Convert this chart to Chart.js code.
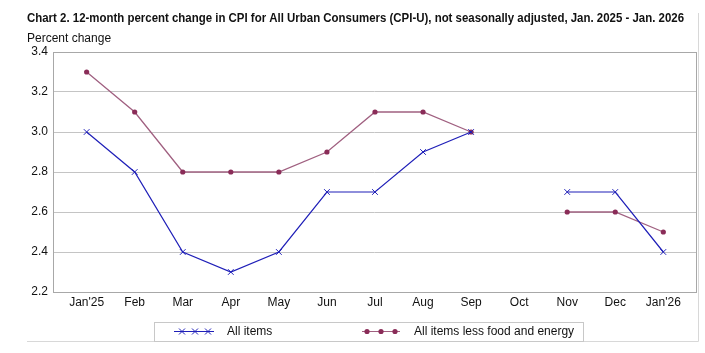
<!DOCTYPE html>
<html>
<head>
<meta charset="utf-8">
<script src="https://cdn.jsdelivr.net/npm/chart.js@4"></script>
<style>
  html, body { margin: 0; padding: 0; background: #fff; }
  #wrap { width: 705px; height: 353px; }
</style>
</head>
<body>
<div id="wrap"><canvas id="cpiChart" width="705" height="353"></canvas></div>
<script>
const months = ["Jan'25", "Feb", "Mar", "Apr", "May", "Jun", "Jul", "Aug", "Sep", "Oct", "Nov", "Dec", "Jan'26"];
const allItems = [3.0, 2.8, 2.4, 2.3, 2.4, 2.7, 2.7, 2.9, 3.0, null, 2.7, 2.7, 2.4];
const coreItems = [3.3, 3.1, 2.8, 2.8, 2.8, 2.9, 3.1, 3.1, 3.0, null, 2.6, 2.6, 2.5];
const yTicks = [2.2, 2.4, 2.6, 2.8, 3.0, 3.2, 3.4];
const seriesLabels = ["All items", "All items less food and energy"];
const chartTitle = "Chart 2. 12-month percent change in CPI for All Urban Consumers (CPI-U), not seasonally adjusted, Jan. 2025 - Jan. 2026";
const yTitle = "Percent change";

const FONT = "'Liberation Sans', Arial, sans-serif";
const BLUE = "#1f1fb8";
const MAROON_LINE = "#a06080";
const MAROON_PT = "#8a2c58";

// turn a value list into {x, y} points so the x axis can be a padded linear scale
const toPoints = (vals) => vals.map((v, i) => ({ x: i, y: v }));

// titles, frame around the plot, outer light frame and the boxed legend
const decorPlugin = {
  id: "decor",
  afterDraw(chart) {
    const { ctx, chartArea: a } = chart;
    ctx.save();

    // title is squeezed into its width like the narrow original
    ctx.fillStyle = "#111";
    ctx.textBaseline = "middle";
    ctx.font = "bold 13px " + FONT;
    ctx.fillText(chartTitle, 27, 18, 657);
    ctx.font = "12px " + FONT;
    ctx.fillText(yTitle, 27, 38.5);

    ctx.strokeStyle = "#a8a8a8";
    ctx.lineWidth = 1;
    ctx.strokeRect(Math.round(a.left) + 0.5, Math.round(a.top) + 0.5,
      Math.round(a.right - a.left), Math.round(a.bottom - a.top));

    // outer frame (right and bottom edges only)
    ctx.strokeStyle = "#d8d8d8";
    ctx.beginPath();
    ctx.moveTo(698.5, 13);
    ctx.lineTo(698.5, 341.5);
    ctx.lineTo(27, 341.5);
    ctx.stroke();

    // legend box
    ctx.strokeStyle = "#c8c8c8";
    ctx.strokeRect(154.5, 322.5, 429, 19);

    const items = [
      { x0: 174, x1: 214, marks: [182, 195, 208], color: BLUE, ptColor: BLUE, style: "x", tx: 227 },
      { x0: 362, x1: 400, marks: [367, 381, 395], color: MAROON_LINE, ptColor: MAROON_PT, style: "dot", tx: 414 },
    ];
    const ly = 331.5;
    items.forEach((it, i) => {
      ctx.strokeStyle = it.color;
      ctx.lineWidth = 1;
      ctx.beginPath();
      ctx.moveTo(it.x0, ly);
      ctx.lineTo(it.x1, ly);
      ctx.stroke();
      it.marks.forEach((mx) => {
        if (it.style === "x") {
          ctx.strokeStyle = it.ptColor;
          ctx.beginPath();
          ctx.moveTo(mx - 3, ly - 3); ctx.lineTo(mx + 3, ly + 3);
          ctx.moveTo(mx - 3, ly + 3); ctx.lineTo(mx + 3, ly - 3);
          ctx.stroke();
        } else {
          ctx.fillStyle = it.ptColor;
          ctx.beginPath();
          ctx.arc(mx, ly, 2.6, 0, Math.PI * 2);
          ctx.fill();
        }
      });
      ctx.fillStyle = "#111";
      ctx.font = "12px " + FONT;
      ctx.textBaseline = "middle";
      ctx.fillText(seriesLabels[i], it.tx, ly);
    });
    ctx.restore();
  },
};

const ctx = document.getElementById("cpiChart").getContext("2d");
new Chart(ctx, {
  type: "line",
  data: {
    datasets: [
      {
        label: seriesLabels[0],
        data: toPoints(allItems),
        borderColor: BLUE,
        backgroundColor: BLUE,
        borderWidth: 1.2,
        pointStyle: "crossRot",
        pointRadius: 4,
        pointBorderWidth: 1,
        pointBorderColor: BLUE,
        spanGaps: false,
        order: 1,
      },
      {
        label: seriesLabels[1],
        data: toPoints(coreItems),
        borderColor: MAROON_LINE,
        backgroundColor: MAROON_PT,
        borderWidth: 1.3,
        pointStyle: "circle",
        pointRadius: 2.6,
        pointBorderWidth: 0,
        pointBackgroundColor: MAROON_PT,
        spanGaps: false,
        order: 2,
      },
    ],
  },
  options: {
    responsive: false,
    animation: false,
    events: [],
    layout: { padding: { left: 27, right: 9, top: 52, bottom: 0 } },
    plugins: {
      legend: { display: false },
      tooltip: { enabled: false },
      title: { display: false },
    },
    scales: {
      x: {
        type: "linear",
        min: -0.7,
        max: 12.68,
        afterBuildTicks: (scale) => { scale.ticks = months.map((_, i) => ({ value: i })); },
        afterFit: (scale) => { scale.height = 61; },
        grid: { display: false, drawTicks: false },
        border: { display: false },
        ticks: {
          autoSkip: false,
          maxRotation: 0,
          padding: 3,
          color: "#111",
          font: { family: FONT, size: 12 },
          callback: (v) => months[v],
        },
      },
      y: {
        min: 2.2,
        max: 3.4,
        afterBuildTicks: (scale) => { scale.ticks = yTicks.map((v) => ({ value: v })); },
        afterFit: (scale) => { scale.width = 26; },
        grid: { color: "#c4c4c4", lineWidth: 1, drawTicks: false },
        border: { display: false },
        ticks: {
          padding: 5,
          color: "#111",
          font: { family: FONT, size: 12 },
          callback: (v) => v.toFixed(1),
        },
      },
    },
  },
  plugins: [decorPlugin],
});
</script>
</body>
</html>
